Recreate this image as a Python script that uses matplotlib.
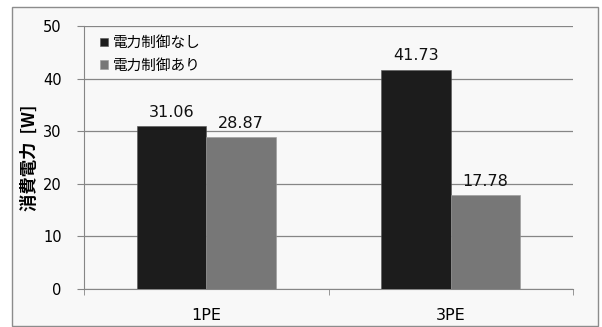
import matplotlib.pyplot as plt
import numpy as np
from matplotlib.patches import Rectangle

plt.rcParams['font.family'] = ['DejaVu Sans', 'Noto Sans CJK JP']

# Data
categories = ['1PE', '3PE']
series_names = ['電力制御なし', '電力制御あり']
no_control = [31.06, 41.73]
with_control = [28.87, 17.78]
colors = ['#1c1c1c', '#777777']

fig = plt.figure(figsize=(6.02, 3.27), dpi=100)
fig.patch.set_facecolor('white')
fig.patches.append(Rectangle((12 / 602, 1 / 327), 586 / 602, 319 / 327,
                             transform=fig.transFigure, facecolor='#f8f8f8',
                             edgecolor='#8c8c8c', linewidth=1.0, zorder=-1))

ax = fig.add_axes([84 / 602, 1 - 289 / 327, 489 / 602, 263 / 327])
ax.set_facecolor('none')

x = np.arange(len(categories))
w = 0.284
b1 = ax.bar(x - w / 2, no_control, w, color=colors[0], edgecolor='#555555', linewidth=0.4,
            label=series_names[0], zorder=3)
b2 = ax.bar(x + w / 2, with_control, w, color=colors[1], edgecolor='#999999', linewidth=0.4,
            label=series_names[1], zorder=3)

for bars in (b1, b2):
    for rect in bars:
        h = rect.get_height()
        ax.annotate(f'{h:.2f}', (rect.get_x() + rect.get_width() / 2, h),
                    textcoords='offset points', xytext=(0, 6.5), ha='center', va='baseline',
                    fontsize=11.5, color='#111111', zorder=4)

ax.set_xlim(-0.5, 1.5)
ax.set_ylim(0, 50)
ax.set_yticks([0, 10, 20, 30, 40, 50])
ax.yaxis.grid(True, color='#868686', linewidth=0.9, zorder=0)
ax.set_axisbelow(True)

ax.set_xticks(x)
ax.set_xticklabels(categories, fontsize=11.5)
ax.set_xticks([-0.5, 0.5, 1.5], minor=True)
ax.tick_params(axis='x', which='major', length=0, pad=14)
ax.tick_params(axis='x', which='minor', length=4, color='#868686')
ax.tick_params(axis='y', length=5, color='#868686', labelsize=10.5, pad=11)

for s in ['top', 'right']:
    ax.spines[s].set_visible(False)
ax.spines['left'].set_color('#868686')
ax.spines['bottom'].set_color('#868686')

ax.set_ylabel('消費電力  [W]', fontsize=12.5, fontweight='bold', labelpad=3,
              family=['Noto Sans CJK JP', 'DejaVu Sans'])

ax.legend(loc='upper left', bbox_to_anchor=(0.012, 1.0), frameon=False,
          prop={'family': ['Noto Sans CJK JP'], 'size': 10.5},
          handlelength=0.55, handleheight=0.55, handletextpad=0.35, labelspacing=0.6,
          borderaxespad=0.3)

fig.savefig('out.png', dpi=100)
